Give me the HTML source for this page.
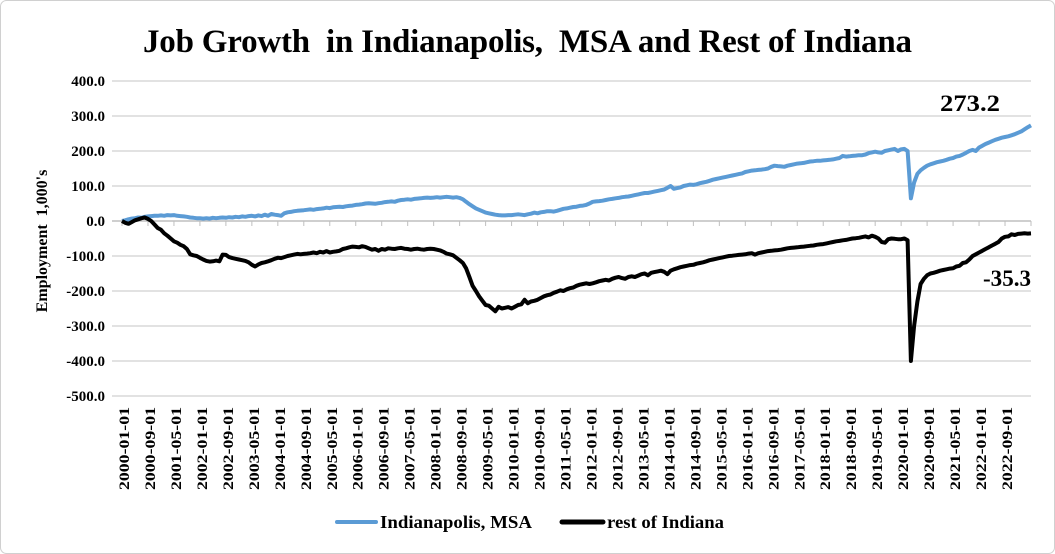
<!DOCTYPE html>
<html><head><meta charset="utf-8"><style>
body{margin:0;background:#fff}
svg{display:block;font-family:"Liberation Serif",serif;font-weight:bold}
</style></head><body>
<svg id="chart" width="1055" height="554">
<rect x="0.5" y="0.5" width="1054" height="553" rx="6" fill="#fff" stroke="#d0d0d0"/>
<text x="143" y="52" font-size="33" textLength="769" lengthAdjust="spacing" xml:space="preserve">Job Growth  in Indianapolis,  MSA and Rest of Indiana</text>
<text transform="translate(47,241) rotate(-90)" font-size="16" text-anchor="middle" xml:space="preserve">Employment  1,000's</text>
<g id="grid"></g><g id="ylabels"></g><g id="xlabels"></g><g id="series"></g>
<text x="940" y="111" font-size="23" textLength="60" lengthAdjust="spacingAndGlyphs">273.2</text>
<text x="983" y="286" font-size="23" textLength="48" lengthAdjust="spacingAndGlyphs">-35.3</text>
<g>
<line x1="337" y1="522" x2="376" y2="522" stroke="#5b9bd5" stroke-width="4" stroke-linecap="round"/>
<text x="380" y="528" font-size="18" textLength="152" lengthAdjust="spacingAndGlyphs">Indianapolis, MSA</text>
<line x1="562" y1="522" x2="603" y2="522" stroke="#000" stroke-width="5" stroke-linecap="round"/>
<text x="607" y="528" font-size="18" textLength="117" lengthAdjust="spacingAndGlyphs">rest of Indiana</text>
</g>
</svg>
<script>
const yTicks=[400,300,200,100,0,-100,-200,-300,-400,-500];
const startYear=2000;
const indy=[
0,2,5,7,8,10,9,12,13,14,15,15,
16,15,17,16,17,15,14,13,12,10,9,8,
8,7,8,7,9,8,9,10,9,11,10,12,
11,13,12,14,15,13,16,14,18,15,20,18,
17,15,22,25,26,28,29,30,31,32,33,32,
34,35,36,38,37,39,40,41,40,42,43,44,
46,47,48,50,51,50,49,51,52,54,55,56,
55,58,60,61,62,61,63,64,65,66,67,66,
67,68,67,68,69,68,67,68,66,62,55,48,
42,36,32,28,24,22,20,18,17,16,16,17,
17,18,19,18,17,19,21,24,22,25,26,28,
28,27,29,32,35,36,38,40,41,43,44,46,
50,55,56,57,58,60,62,63,65,66,68,69,
70,72,74,76,78,80,80,82,84,86,88,90,
95,100,92,94,96,100,102,104,103,105,108,110,
112,115,118,120,122,124,126,128,130,132,134,136,
140,142,144,145,146,147,148,150,155,158,157,156,
155,158,160,162,164,165,166,168,170,171,172,172,
173,174,175,176,178,180,186,184,185,186,187,188,
188,190,194,196,198,196,195,200,202,204,206,200,
205,206,200,65,110,135,145,152,158,162,165,168,
170,172,175,178,180,184,186,190,195,200,203,200,
210,215,220,224,228,232,235,238,240,242,245,248,
252,256,262,268,273.2];
const rest=[
0,-5,-8,-3,2,5,8,10,6,0,-10,-20,
-25,-35,-42,-50,-58,-62,-68,-72,-80,-95,-98,-100,
-105,-110,-114,-116,-115,-113,-115,-96,-97,-103,-106,-108,
-110,-112,-114,-118,-125,-130,-124,-120,-118,-115,-112,-108,
-105,-106,-103,-100,-98,-96,-94,-95,-94,-93,-92,-90,
-92,-88,-90,-86,-90,-88,-87,-85,-80,-78,-75,-73,
-74,-75,-72,-74,-78,-82,-80,-85,-80,-82,-78,-79,
-80,-78,-77,-79,-80,-82,-80,-79,-81,-82,-80,-79,
-80,-82,-84,-88,-93,-95,-98,-105,-112,-120,-135,-160,
-185,-200,-215,-228,-240,-242,-250,-258,-245,-250,-248,-246,
-250,-245,-240,-238,-225,-235,-230,-228,-225,-220,-215,-212,
-210,-205,-202,-198,-200,-195,-192,-190,-185,-182,-180,-178,
-180,-178,-175,-172,-170,-168,-170,-165,-162,-160,-163,-165,
-160,-158,-160,-156,-152,-150,-155,-148,-146,-144,-142,-145,
-152,-142,-138,-135,-132,-130,-128,-126,-125,-122,-120,-118,
-115,-112,-110,-108,-106,-104,-102,-100,-99,-98,-97,-96,
-95,-93,-92,-96,-92,-90,-88,-86,-85,-84,-83,-82,
-80,-78,-77,-76,-75,-74,-73,-72,-71,-70,-68,-67,
-66,-64,-62,-60,-58,-57,-55,-54,-52,-50,-49,-48,
-46,-44,-47,-42,-45,-50,-60,-62,-52,-50,-51,-52,
-52,-50,-55,-400,-300,-230,-180,-165,-155,-150,-148,-145,
-142,-140,-138,-136,-135,-130,-128,-120,-118,-110,-100,-95,
-90,-85,-80,-75,-70,-65,-60,-50,-45,-44,-38,-40,
-37,-36,-35,-36,-35.3];
const NS='http://www.w3.org/2000/svg';
const L=112,R=1031,X0=122,X1=1031;
const n=indy.length;
const yS=v=>221-v*0.35;
const xS=i=>X0+i*(X1-X0)/(n-1);
function mk(t,a,p){const e=document.createElementNS(NS,t);for(const k in a)e.setAttribute(k,a[k]);p.appendChild(e);return e;}
const grid=document.getElementById('grid'),yl=document.getElementById('ylabels'),xl=document.getElementById('xlabels'),sg=document.getElementById('series');
yTicks.forEach(v=>{
 const g=mk('line',{x1:L,x2:R,y1:yS(v),y2:yS(v),stroke:v===0?'#bfbfbf':'#d9d9d9','stroke-width':1.5},grid);
 
 
 const t=mk('text',{x:105,y:yS(v)+5,'text-anchor':'end','font-size':15},yl);
 t.textContent=v.toFixed(1);
 
 
});
for(let i=0;i<n;i+=8){
 const x=xS(i);
 const tk=mk('line',{x1:x,x2:x,y1:221,y2:226,stroke:'#bfbfbf','stroke-width':1},grid);
 
 
 if(i>272) continue;
 const y=startYear+Math.floor(i/12),m=i%12+1;
 const t=mk('text',{transform:`translate(${x+7},490) rotate(-90)`,'font-size':15,textLength:83,lengthAdjust:'spacingAndGlyphs'},xl);
 t.textContent=`${y}-${String(m).padStart(2,'0')}-01`;
 
 
}
function line(d,c,name){
 const p=mk('polyline',{points:d.map((v,i)=>xS(i).toFixed(1)+','+yS(v).toFixed(1)).join(' '),fill:'none',stroke:c,'stroke-width':4,'stroke-linejoin':'round'},sg);
 
 
}
line(indy,'#5b9bd5','indy-line');
line(rest,'#000','rest-of-indiana-line');
</script>
</body></html>
